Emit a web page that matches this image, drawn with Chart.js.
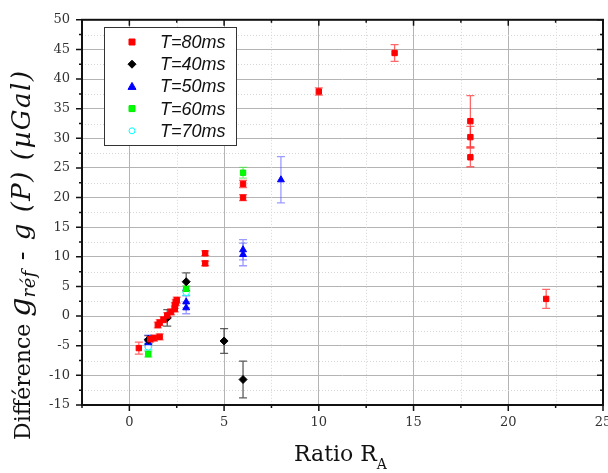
<!DOCTYPE html>
<html>
<head>
<meta charset="utf-8">
<script src="https://cdn.jsdelivr.net/npm/chart.js@4/dist/chart.umd.min.js"></script>
<style>
  html, body { margin: 0; padding: 0; background: #fff; }
  #wrap { width: 608px; height: 473px; }
</style>
</head>
<body>
<div id="wrap"><canvas id="c" width="608" height="473"></canvas></div>
<script>
// data: x = ratio R_A, y = difference (µGal), err = half error bar
const t80X = [0.5, 1.1, 1.3, 1.6, 1.5, 1.6, 1.8, 2.0, 2.2, 2.4, 2.4, 2.45, 2.5, 4, 4, 6, 6, 10, 14, 18, 18, 18, 22];
const t80Y = [-5.4, -3.9, -3.7, -3.5, -1.5, -1.1, -0.6, 0.1, 0.7, 1.2, 1.8, 2.3, 2.7, 10.6, 8.9, 22.3, 20.0, 37.9, 44.4, 32.9, 30.2, 26.8, 2.9];
const t80Err = [1.0, 0.5, 0.5, 0.5, 0.5, 0.5, 0.5, 0.5, 0.5, 0.5, 0.5, 0.5, 0.5, 0.4, 0.4, 0.6, 0.5, 0.6, 1.4, 4.3, 1.8, 1.6, 1.6];

const t40X = [1, 2, 3, 5, 6];
const t40Y = [-4.0, -0.3, 5.8, -4.2, -10.7];
const t40Err = [0.7, 1.4, 1.5, 2.1, 3.1];

const t50X = [1, 1, 3, 3, 6, 6, 8];
const t50Y = [-3.9, -4.5, 2.4, 1.4, 11.2, 10.4, 23.0];
const t50Err = [0.7, 0.7, 1.0, 1.0, 1.7, 1.9, 3.9];

const t60X = [1, 3, 6];
const t60Y = [-6.4, 4.6, 24.2];
const t60Err = [0.5, 0.5, 0.9];

const t70X = [1, 3];
const t70Y = [-5.2, 4.0];
const t70Err = [0.5, 0.5];

const xMin = -2.5, xMax = 25, yMin = -15, yMax = 50;

function pts(xs, ys, es){
  return xs.map((x, i) => ({ x, y: ys[i], err: es[i] }));
}

const isMajor = v => Math.abs(v / 5 - Math.round(v / 5)) < 1e-6;

// minor dotted grid + error bars, under the markers
const underlay = {
  id: 'underlay',
  beforeDatasetsDraw(chart){
    const { ctx, chartArea: a, scales: { x, y } } = chart;
    ctx.save();
    ctx.strokeStyle = '#d6d6d6';
    ctx.lineWidth = 1;
    ctx.setLineDash([1, 2]);
    ctx.beginPath();
    for(let v = xMin; v <= xMax; v += 2.5){
      if(isMajor(v)) continue;
      const px = Math.round(x.getPixelForValue(v)) + 0.5;
      ctx.moveTo(px, a.top); ctx.lineTo(px, a.bottom);
    }
    for(let v = yMin; v <= yMax; v += 2.5){
      if(isMajor(v)) continue;
      const py = Math.round(y.getPixelForValue(v)) + 0.5;
      ctx.moveTo(a.left, py); ctx.lineTo(a.right, py);
    }
    ctx.stroke();
    ctx.setLineDash([]);

    chart.data.datasets.forEach(ds => {
      ctx.strokeStyle = ds.errorColor;
      ctx.lineWidth = 1.3;
      ds.data.forEach(p => {
        const px = x.getPixelForValue(p.x);
        const top = y.getPixelForValue(p.y + p.err);
        const bot = y.getPixelForValue(p.y - p.err);
        ctx.beginPath();
        ctx.moveTo(px, top); ctx.lineTo(px, bot);
        ctx.moveTo(px - 4, top); ctx.lineTo(px + 4, top);
        ctx.moveTo(px - 4, bot); ctx.lineTo(px + 4, bot);
        ctx.stroke();
      });
    });
    ctx.restore();
  }
};

function symbol(ctx, style, cx, cy, fill, stroke){
  ctx.beginPath();
  if(style === 'rect'){ ctx.rect(cx - 3, cy - 3, 6, 6); }
  else if(style === 'rectRot'){ ctx.moveTo(cx, cy - 4); ctx.lineTo(cx + 4, cy); ctx.lineTo(cx, cy + 4); ctx.lineTo(cx - 4, cy); ctx.closePath(); }
  else if(style === 'triangle'){ ctx.moveTo(cx, cy - 4); ctx.lineTo(cx + 4, cy + 3); ctx.lineTo(cx - 4, cy + 3); ctx.closePath(); }
  else { ctx.arc(cx, cy, 3, 0, Math.PI * 2); }
  ctx.fillStyle = fill; ctx.fill();
  ctx.strokeStyle = stroke; ctx.lineWidth = 1; ctx.stroke();
}

// frame, tick marks, axis titles, legend
const overlay = {
  id: 'overlay',
  afterDraw(chart){
    const { ctx, chartArea: a, scales: { x, y } } = chart;
    ctx.save();
    ctx.strokeStyle = '#111';
    ctx.lineWidth = 2;
    ctx.strokeRect(a.left, a.top, a.right - a.left, a.bottom - a.top);

    ctx.lineWidth = 1.5;
    ctx.beginPath();
    for(let v = xMin; v <= xMax + 1e-6; v += 2.5){
      const px = x.getPixelForValue(v);
      const len = isMajor(v) ? 6 : 3;
      ctx.moveTo(px, a.bottom); ctx.lineTo(px, a.bottom + len);
      ctx.moveTo(px, a.top); ctx.lineTo(px, a.top + len);
    }
    for(let v = yMin; v <= yMax + 1e-6; v += 2.5){
      const py = y.getPixelForValue(v);
      const len = isMajor(v) ? 6 : 3;
      ctx.moveTo(a.left, py); ctx.lineTo(a.left - len, py);
      ctx.moveTo(a.right, py); ctx.lineTo(a.right - len, py);
    }
    ctx.stroke();

    // x title: Ratio R_A
    ctx.fillStyle = '#111';
    ctx.textBaseline = 'alphabetic';
    ctx.textAlign = 'left';
    ctx.font = '22px "DejaVu Serif"';
    const xt = 'Ratio R';
    const w1 = ctx.measureText(xt).width;
    ctx.fillText(xt, 294, 461);
    ctx.font = '14px "DejaVu Serif"';
    ctx.fillText('A', 294 + w1, 469);

    // y title: Différence g_réf - g (P) (µGal)
    ctx.translate(30, 440);
    ctx.rotate(-Math.PI / 2);
    const parts = [
      { t: 'Différence ', f: '22px "DejaVu Serif"', dy: 0, ls: 0 },
      { t: 'g', f: 'italic 30px "DejaVu Serif"', dy: 0, ls: 0 },
      { t: 'réf', f: 'italic 18px "DejaVu Serif"', dy: 5, ls: 0.5 },
      { t: ' - g (P) (µGal)', f: 'italic 26px "DejaVu Serif"', dy: 0, ls: 1.5 }
    ];
    let px = 0;
    parts.forEach(p => {
      ctx.font = p.f;
      ctx.letterSpacing = p.ls + 'px';
      ctx.fillText(p.t, px, p.dy);
      px += ctx.measureText(p.t).width;
    });
    ctx.letterSpacing = '0px';
    ctx.setTransform(1, 0, 0, 1, 0, 0);

    // legend box
    const bx = 104, by = 27, bw = 132, bh = 118;
    ctx.fillStyle = '#fff';
    ctx.fillRect(bx, by, bw, bh);
    ctx.strokeStyle = '#333';
    ctx.lineWidth = 1;
    ctx.strokeRect(bx + 0.5, by + 0.5, bw, bh);
    ctx.font = 'italic 18px "Liberation Sans"';
    ctx.textBaseline = 'middle';
    chart.data.datasets.forEach((ds, i) => {
      const ly = 42 + i * 22.2;
      symbol(ctx, ds.pointStyle, 132, ly, ds.pointBackgroundColor, ds.pointBorderColor);
      ctx.fillStyle = '#111';
      ctx.fillText(ds.label, 160, ly + 1);
    });
    ctx.restore();
  }
};

const datasets = [
  { label: 'T=80ms', data: pts(t80X, t80Y, t80Err), pointStyle: 'rect', pointRadius: 3.8,
    pointBackgroundColor: '#ff0000', pointBorderColor: '#ff0000', errorColor: 'rgba(255,40,40,0.7)' },
  { label: 'T=40ms', data: pts(t40X, t40Y, t40Err), pointStyle: 'rectRot', pointRadius: 4,
    pointBackgroundColor: '#000000', pointBorderColor: '#000000', errorColor: 'rgba(40,40,40,0.75)' },
  { label: 'T=50ms', data: pts(t50X, t50Y, t50Err), pointStyle: 'triangle', pointRadius: 4,
    pointBackgroundColor: '#0000ff', pointBorderColor: '#0000ff', errorColor: 'rgba(90,90,255,0.6)' },
  { label: 'T=60ms', data: pts(t60X, t60Y, t60Err), pointStyle: 'rect', pointRadius: 3.8,
    pointBackgroundColor: '#00ff00', pointBorderColor: '#00ee00', errorColor: 'rgba(60,230,60,0.65)' },
  { label: 'T=70ms', data: pts(t70X, t70Y, t70Err), pointStyle: 'circle', pointRadius: 3.2,
    pointBackgroundColor: '#ffffff', pointBorderColor: '#00ffff', errorColor: 'rgba(0,230,230,0.6)' }
];
datasets.forEach(d => { d.showLine = false; d.pointBorderWidth = 1; d.pointHoverRadius = d.pointRadius; });

new Chart(document.getElementById('c'), {
  type: 'scatter',
  data: { datasets: datasets.slice() },
  options: {
    responsive: false,
    animation: false,
    devicePixelRatio: 1,
    layout: { padding: { top: 17, right: 5, left: 0, bottom: 0 } },
    plugins: { legend: { display: false }, tooltip: { enabled: false } },
    scales: {
      x: {
        type: 'linear', min: xMin, max: xMax,
        afterFit(s){ s.height = 68; s.paddingLeft = 0; s.paddingRight = 0; },
        border: { display: false },
        grid: { drawTicks: false, color: c => isMajor(c.tick.value) ? '#b4b4b4' : 'rgba(0,0,0,0)', lineWidth: 1 },
        ticks: { stepSize: 2.5, padding: 10, color: '#333', font: { family: '"DejaVu Serif"', size: 13 },
          callback: v => isMajor(v) && v >= 0 ? String(v) : '' }
      },
      y: {
        type: 'linear', min: yMin, max: yMax,
        afterFit(s){ s.width = 82; },
        border: { display: false },
        grid: { drawTicks: false, color: c => isMajor(c.tick.value) ? '#b4b4b4' : 'rgba(0,0,0,0)', lineWidth: 1 },
        ticks: { stepSize: 2.5, padding: 12, color: '#333', font: { family: '"DejaVu Serif"', size: 13 },
          callback: v => isMajor(v) ? String(v) : '' }
      }
    }
  },
  plugins: [underlay, overlay]
});
</script>
</body>
</html>
